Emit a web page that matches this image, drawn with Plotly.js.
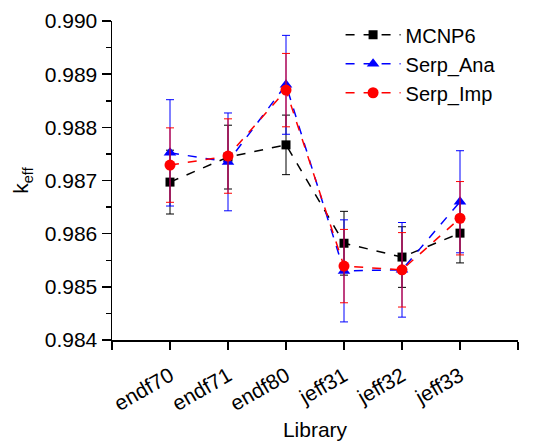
<!DOCTYPE html>
<html>
<head>
<meta charset="utf-8">
<script src="https://cdn.plot.ly/plotly-3.0.1.min.js"></script>
<style>html,body{margin:0;padding:0;background:#fff;}#chart{width:539px;height:443px;}</style>
</head>
<body>
<div id="chart"></div>
<script>
const libraries = ['endf70', 'endf71', 'endf80', 'jeff31', 'jeff32', 'jeff33'];
const xPos = [1, 2, 3, 4, 5, 6];
const mcnp6 = [0.98697, 0.98744, 0.98767, 0.98582, 0.98556, 0.98601];
const mcnp6Err = [0.00060, 0.00060, 0.00056, 0.00060, 0.00057, 0.00056];
const serpAna = [0.98752, 0.98735, 0.98880, 0.98530, 0.98532, 0.98660];
const serpAnaErr = [0.00100, 0.00092, 0.00093, 0.00096, 0.00089, 0.00096];
const serpImp = [0.98729, 0.98746, 0.98870, 0.98539, 0.98532, 0.98629];
const serpImpErr = [0.00070, 0.00070, 0.00069, 0.00069, 0.00070, 0.00069];
const tickVals = [0, 1, 2, 3, 4, 5, 6, 7];
const tickText = ['', 'endf70', 'endf71', 'endf80', 'jeff31', 'jeff32', 'jeff33', ''];

function mk(name, y, err, color, symbol, size) {
  return {
    type: 'scatter', mode: 'lines+markers', name: name,
    x: xPos, y: y,
    line: {color: color, width: 1.5, dash: 'dash'},
    marker: {color: color, symbol: symbol, size: size},
    error_y: {type: 'data', array: err, visible: true, color: color, thickness: 1, width: 4}
  };
}
const data = [
  mk('MCNP6', mcnp6, mcnp6Err, 'black', 'square', 9),
  mk('Serp_Ana', serpAna, serpAnaErr, 'blue', 'triangle-up', 11),
  mk('Serp_Imp', serpImp, serpImpErr, 'red', 'circle', 11)
];
const font = {family: 'Liberation Sans, Arial, sans-serif', color: 'black'};
const layout = {
  width: 539, height: 443,
  margin: {l: 112, r: 21, t: 21, b: 103},
  paper_bgcolor: 'white', plot_bgcolor: 'white',
  showlegend: true,
  font: Object.assign({size: 21}, font),
  legend: {x: 0.563, y: 1.018, xanchor: 'left', yanchor: 'top', bgcolor: 'rgba(0,0,0,0)',
    font: Object.assign({size: 20}, font), itemwidth: 55, tracegroupgap: 0},
  xaxis: {
    range: [0, 7], tickmode: 'array', tickvals: tickVals, ticktext: tickText,
    tickangle: -30, showgrid: false, zeroline: false,
    showline: true, linecolor: 'black', linewidth: 1.5,
    ticks: 'outside', ticklen: 8, tickwidth: 1.5, tickcolor: 'black',
    ticklabelstandoff: 6,
    tickfont: Object.assign({size: 21}, font),
    title: {text: 'Library', font: Object.assign({size: 21}, font), standoff: 8}
  },
  yaxis: {
    range: [0.984, 0.990], tickmode: 'linear', tick0: 0.984, dtick: 0.001, tickformat: '.3f',
    showgrid: false, zeroline: false,
    showline: true, linecolor: 'black', linewidth: 1.5,
    ticks: 'outside', ticklen: 9, tickwidth: 1.5, tickcolor: 'black',
    minor: {dtick: 0.0005, ticks: 'outside', ticklen: 5, tickwidth: 1.5, tickcolor: 'black', showgrid: false},
    tickfont: Object.assign({size: 21}, font),
    title: {text: 'k<sub>eff</sub>', font: Object.assign({size: 21}, font), standoff: 10}
  }
};
Plotly.newPlot('chart', data, layout, {displayModeBar: false, staticPlot: true});
</script>
</body>
</html>
